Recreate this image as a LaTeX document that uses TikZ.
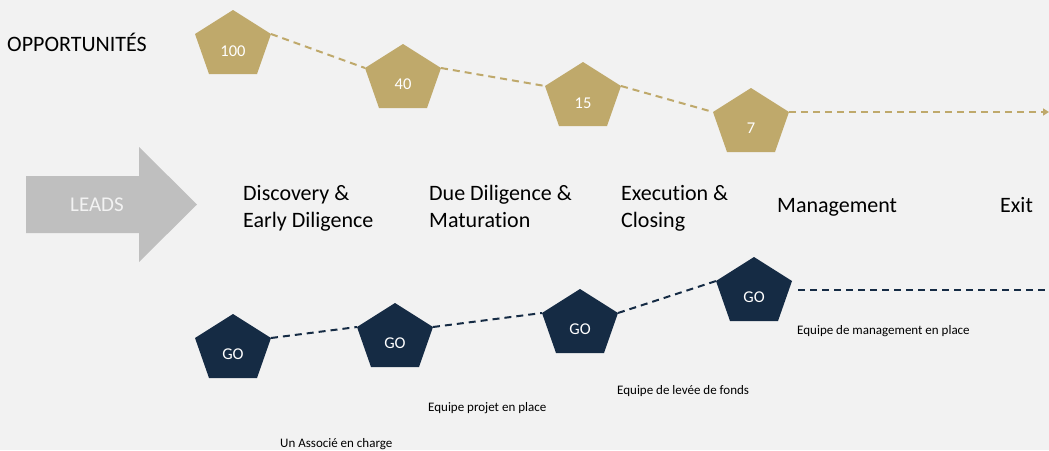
\documentclass[tikz,border=0pt]{standalone}
\usepackage{fontspec}
\setmainfont[Ligatures=NoCommon]{Carlito}
\usetikzlibrary{arrows.meta}
\definecolor{bg}{HTML}{F2F2F2}
\definecolor{gold}{HTML}{BFA96B}
\definecolor{navy}{HTML}{152B44}
\definecolor{leadgray}{HTML}{BFBFBF}
\newcommand\pentpath[3]{\fill[#1] (#2,#3) -- ++(-38,24) -- ++(14,40) -- ++(48,0) -- ++(14,-40) -- cycle;}
\begin{document}
\begin{tikzpicture}[x=1pt,y=-1pt,
  stage/.style={anchor=base west, align=left, inner sep=0, text=black,
    font=\fontsize{22}{27}\selectfont},
  pnum/.style={anchor=base, inner sep=0, text=white, font=\fontsize{16.5}{18}\selectfont},
  small/.style={anchor=base west, inner sep=0, text=black, font=\fontsize{13}{15}\selectfont},
  golddash/.style={draw=gold, line width=2pt, dash pattern=on 7pt off 5pt},
  navydash/.style={draw=navy, line width=2pt, dash pattern=on 7pt off 5pt}]
\fill[bg] (0,0) rectangle (1049,450);
\useasboundingbox (0,0) rectangle (1049,450);

% title
\node[stage] (opp) at (7,51) {OPPORTUNITÉS};

% LEADS arrow
\fill[leadgray] (26,176) -- (139,176) -- (139,147) -- (197,204.5) -- (139,262) -- (139,233) -- (26,233) -- cycle;
\node[anchor=base, inner sep=0, text=bg, font=\fontsize{21}{25}\selectfont] (leads) at (97,211.5) {LEADS};

% gold pentagons
\pentpath{gold}{233}{10}
\pentpath{gold}{403}{44}
\pentpath{gold}{583}{62}
\pentpath{gold}{751}{88}
\node[pnum] (p1) at (233,56) {100};
\node[pnum] (p2) at (403,89) {40};
\node[pnum] (p3) at (583,108) {15};
\node[pnum] (p4) at (751,133) {7};
\coordinate (p1r) at (271,34);
\coordinate (p2l) at (365,68);
\coordinate (p2r) at (441,68);
\coordinate (p3l) at (545,86);
\coordinate (p3r) at (621,86);
\coordinate (p4l) at (713,112);
\coordinate (p4r) at (789,112);
\coordinate (pend) at (1049,112);
\draw[golddash] (p1r) -- (p2l);
\draw[golddash] (p2r) -- (p3l);
\draw[golddash] (p3r) -- (p4l);
\draw[golddash, -{Triangle[length=6pt,width=7pt]}] (p4r) -- (pend);

% stages
\node[stage] (s1) at (243,227) {Discovery \&\\Early Diligence};
\node[stage] (s2) at (429,227) {Due Diligence \&\\Maturation};
\node[stage] (s3) at (621,227) {Execution \&\\Closing};
\node[stage] (s4) at (777,212) {Management};
\node[stage] (s5) at (1000,212) {Exit};

% navy pentagons
\pentpath{navy}{233}{314}
\pentpath{navy}{395}{303}
\pentpath{navy}{580}{289}
\pentpath{navy}{754}{257}
\node[pnum] (g1) at (233,359) {GO};
\node[pnum] (g2) at (395,348) {GO};
\node[pnum] (g3) at (580,334) {GO};
\node[pnum] (g4) at (754,302) {GO};
\coordinate (g1r) at (271,338);
\coordinate (g2l) at (357,327);
\coordinate (g2r) at (433,327);
\coordinate (g3l) at (542,313);
\coordinate (g3r) at (618,313);
\coordinate (g4l) at (716,281);
\coordinate (g4e) at (798,290);
\coordinate (gend) at (1049,290);
\draw[navydash] (g1r) -- (g2l);
\draw[navydash] (g2r) -- (g3l);
\draw[navydash] (g3r) -- (g4l);
\draw[navydash] (g4e) -- (gend);

% milestone labels
\node[small] (m1) at (280,447) {Un Associé en charge};
\node[small] (m2) at (428,411) {Equipe projet en place};
\node[small] (m3) at (617,394) {Equipe de levée de fonds};
\node[small] (m4) at (797,334) {Equipe de management en place};
\end{tikzpicture}
\end{document}
